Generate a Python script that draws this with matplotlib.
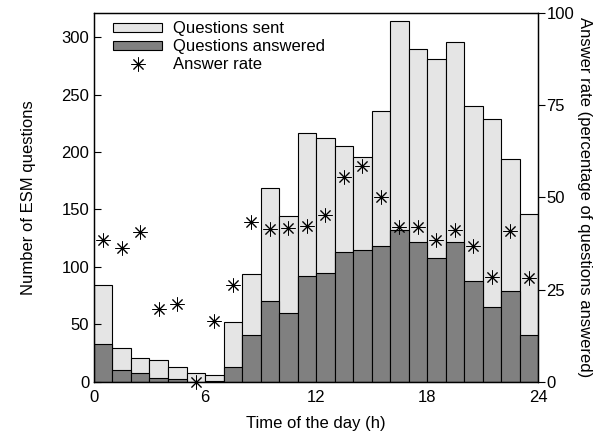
import numpy as np
import matplotlib
matplotlib.use("Agg")
import matplotlib.pyplot as plt

plt.rcParams['font.family'] = ['Liberation Sans', 'DejaVu Sans']

# Hourly ESM data
hours = np.arange(24)
sent = [84, 29, 21, 19, 13, 8, 6, 52, 94, 169, 144, 217,
        212, 205, 196, 236, 314, 290, 281, 296, 240, 229, 194, 146]
answered = [33, 10, 8, 3, 2, 0, 1, 13, 41, 70, 60, 92,
            95, 113, 115, 118, 132, 122, 108, 122, 88, 65, 79, 41]
rate = [38.5, 36.2, 40.6, 19.7, 21.2, 0, 16.5, 26.2, 43.4, 41.4, 41.6, 42.3,
        45.1, 55.4, 58.5, 50.0, 41.9, 41.9, 38.5, 41.2, 36.7, 28.5, 40.9, 28.2]

fig = plt.figure(figsize=(6.08, 4.36), dpi=100)
ax = fig.add_axes([0.1546, 0.1245, 0.7303, 0.8455])
ax2 = ax.twinx()

b1 = ax.bar(hours, sent, width=1, align='edge', color='#e5e5e5',
            edgecolor='black', linewidth=0.8, label='Questions sent')
b2 = ax.bar(hours, answered, width=1, align='edge', color='#808080',
            edgecolor='black', linewidth=0.8, label='Questions answered')
pts, = ax2.plot(hours + 0.5, rate, linestyle='none', marker=(8, 2, 0),
                markersize=10, markeredgewidth=0.7, color='black',
                clip_on=False, label='Answer rate')

ax.set_xlim(0, 24)
ax.set_ylim(0, 321)
ax2.set_ylim(0, 100)
ax.set_xticks([0, 6, 12, 18, 24])
ax.set_yticks(range(0, 301, 50))
ax2.set_yticks([0, 25, 50, 75, 100])

ax.tick_params(axis='both', direction='in', labelsize=12, length=5, width=0.8)
ax.tick_params(axis='x', length=0, pad=6)
ax2.tick_params(axis='y', direction='out', labelsize=12, length=5, width=0.8, pad=1)

for a in (ax, ax2):
    for s in a.spines.values():
        s.set_linewidth(0.9)

ax.set_xlabel('Time of the day (h)', fontsize=12, labelpad=8)
ax.set_ylabel('Number of ESM questions', fontsize=12, labelpad=18)
ax2.set_ylabel('Answer rate (percentage of questions answered)', fontsize=12,
               rotation=270, labelpad=13)

ax2.legend([b1, b2, pts], ['Questions sent', 'Questions answered', 'Answer rate'],
           loc='upper left', bbox_to_anchor=(0.025, 1.0), frameon=False,
           fontsize=12, handlelength=2.9, handleheight=0.5,
           handletextpad=0.7, labelspacing=0.17, borderaxespad=0.1)

fig.savefig('out.png', dpi=100)
